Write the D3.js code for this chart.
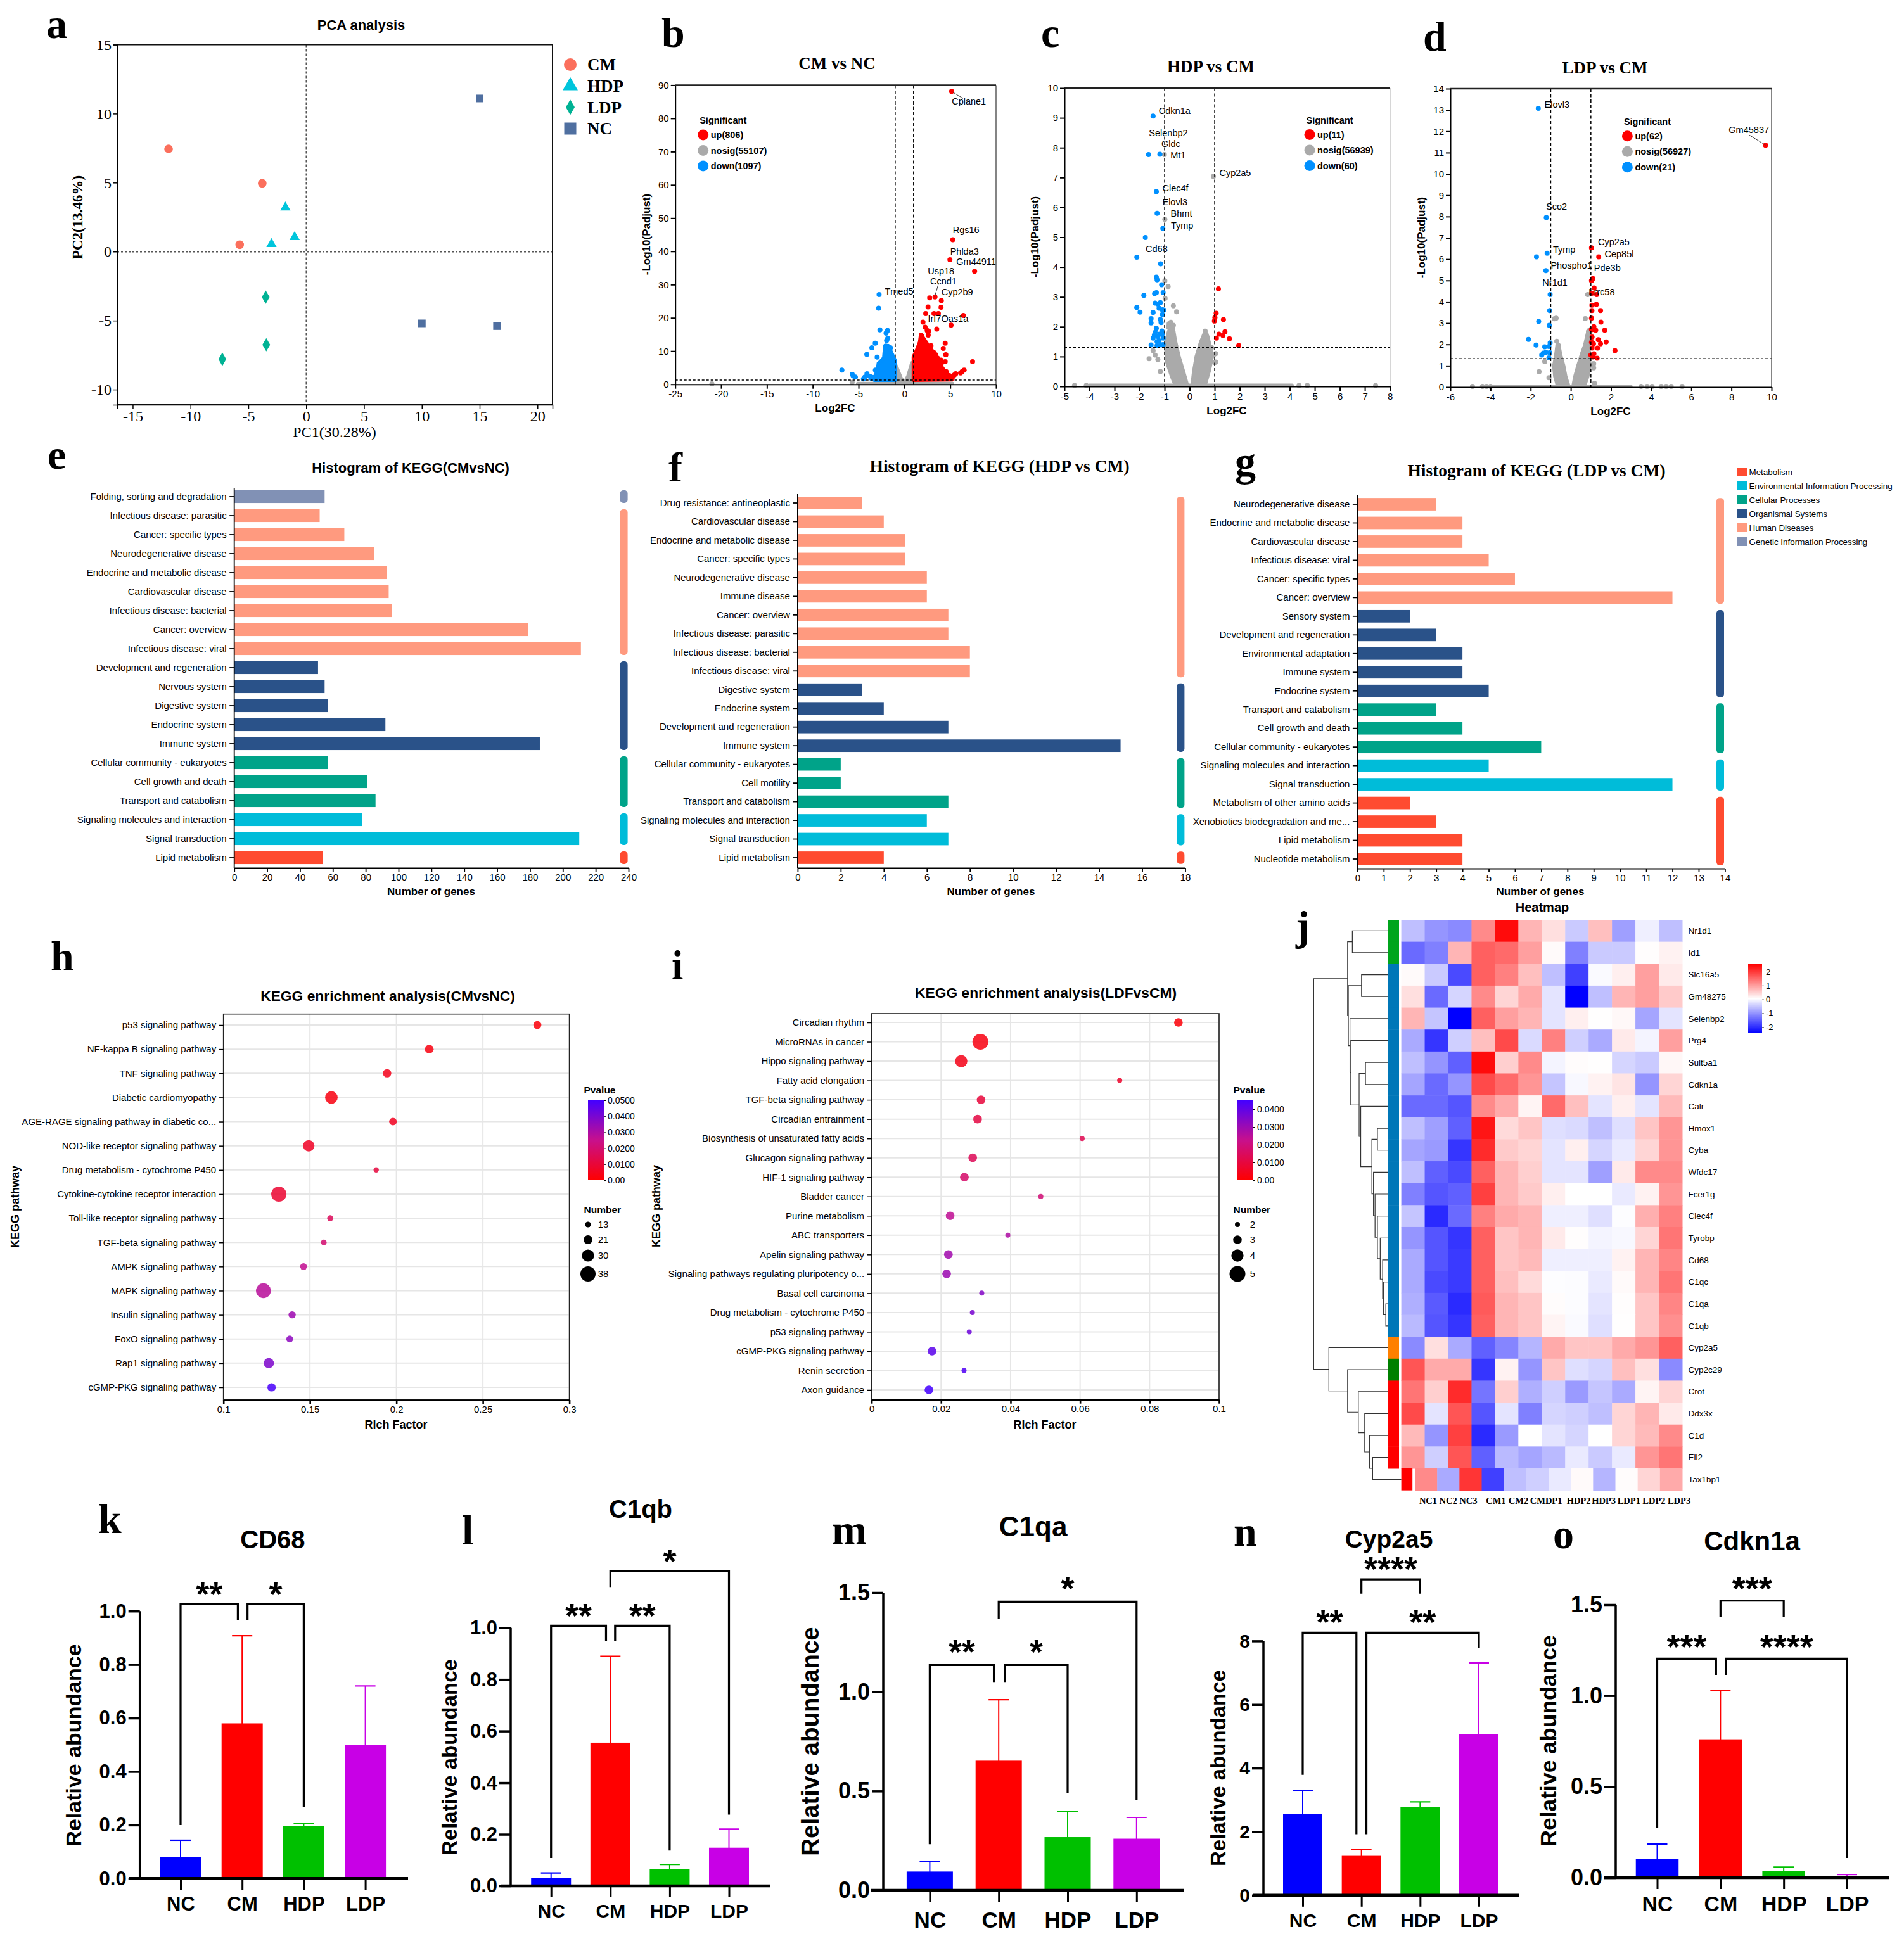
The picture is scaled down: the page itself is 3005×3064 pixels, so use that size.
<!doctype html>
<html>
<head>
<meta charset="utf-8">
<script src="https://d3js.org/d3.v7.min.js"></script>
<style>
    body { margin: 0; background: #fff; }
    text { fill: #000; }
</style>
</head>
<body>
<div id="fig"></div>
<script>
var SANS = "'Liberation Sans', Arial, sans-serif", SERIF = "'Liberation Serif', 'Times New Roman', serif";

// ---------- a: PCA ----------
var pcaGroups = ["CM", "HDP", "LDP", "NC"];
var pcaColors = ["#fb6f5c", "#00c5dc", "#00b294", "#4f6fa0"];
var pcaCM = [[-11.9, 7.45], [-3.8, 4.95], [-5.75, 0.5]];
var pcaHDP = [[-1.8, 3.2], [-1, 1.05], [-3, 0.55]];
var pcaLDP = [[-3.5, -3.3], [-3.45, -6.75], [-7.25, -7.8]];
var pcaNC = [[15, 11.1], [10, -5.2], [16.5, -5.4]];

// ---------- b: CM vs NC ----------
var bUp = [[5.15,88.1],[5.28,43.5],[4.97,37.5],[7.66,34],[3.34,26.3],[2.76,26],[4.03,25.2],[2.58,23.3],[4,23.2],[2.33,21.3],[3.23,21.3],[3.71,21.3],[6.43,20.7],[5.09,17.8],[2.03,18.7],[2.26,17.2],[2.49,16.2],[2.65,15.9],[3.53,16.6],[4.45,12.4],[4.24,10.8],[4.52,8.9],[7.44,6.8],[4.45,6.8],[3.99,7.3],[4,6],[6.52,4.3],[6.29,3.8],[6.13,3.4],[5.6,3.2],[5.25,2.2],[4.56,3.8],[3.18,9.6],[3.41,8.9],[2.72,11.1],[1.87,14.6],[2.6,14.8],[2.9,11.6],[3.6,7.9],[4.9,2.6],[5.45,2.8]];
var bDown = [[-2.76,27],[-2.81,22.9],[-2.67,16.4],[-1.84,16.2],[-2,15.4],[-1.82,13.8],[-1.94,13.2],[-3.18,12.4],[-3.55,11],[-2.03,11.5],[-1.52,11],[-4.1,9],[-2.97,8.2],[-6.82,4.3],[-5.69,3],[-5.35,2.2],[-5.58,2.5],[-4.08,3.2],[-4.31,2.2],[-4.47,1.6],[-3.78,2.4],[-3.16,4.3],[-2.76,6.2],[-2.81,5.4],[-2.58,4.8],[-3.4,2.1],[-3.6,1.8]];
var bGrey = [[-21, 0.15], [-5.7, 0.6]];
var bUpCloud = [[1,1.3],[1,8.3],[1.34,10.2],[1.68,12.7],[1.8,15],[2.5,12.1],[3.18,9.6],[3.76,6.4],[4.45,3.8],[5.25,1.4]];
var bDownCloud = [[-3.27,1.27],[-2.76,6.4],[-2.23,7.96],[-2.12,11.5],[-1.77,11.6],[-1.43,9.6],[-1,7],[-1,1.3]];
var bGreyClouds = [[[0,0.3],[0.41,2.5],[0.83,6.4],[1,5.7],[1,0.6]], [[0,0.3],[-0.39,1.9],[-0.85,5.1],[-1,6],[-1,0.6]]];
var bLabels = [["Cplane1",7.04,85.1],["Rgs16",6.73,46.4],["Phlda3",6.56,40],["Gm44911",7.83,36.9],["Usp18",4,34.1],["Ccnd1",4.26,31],["Cyp2b9",5.76,27.7],["Tmed5",-0.58,27.9],["Irf7",3.29,19.7],["Oas1a",5.5,19.7]];
var bLeaders = [[[5.15,88.1],[6.4,86]], [[3.75,30.5],[3.3,26.3]]];
var bLegend = ["up(806)", "nosig(55107)", "down(1097)"];

// ---------- c: HDP vs CM ----------
var cUp = [[1.15,3.27],[1.06,2.45],[1.01,2.31],[0.99,2.19],[1.35,2.24],[1.41,1.83],[1.33,1.71],[1.17,1.75],[1.07,1.62],[1.59,1.6],[1.96,1.37]];
var cDown = [[-1.46,9.06],[-1.64,7.77],[-1.19,7.78],[-1.33,6.53],[-1.3,5.8],[-1.07,5.29],[-1.77,4.99],[-2.11,4.33],[-1.16,4.11],[-1.33,3.66],[-1.3,3.57],[-1.12,3.41],[-1.33,3.14],[-1.4,3.11],[-1.06,3.14],[-1.83,3.05],[-2.11,2.65],[-1.98,2.49],[-1.46,2.48],[-1.22,2.62],[-1.38,2.79],[-1.27,2.76],[-1.17,2.81],[-1.09,2.57],[-1.03,2.56],[-1.09,2.41],[-1.54,2.27],[-1.54,2.13],[-1.17,2.24],[-1.14,2.14],[-1.33,1.95],[-1.38,1.81],[-1.11,1.86],[-1.41,1.72],[-1.27,1.67],[-1.09,1.76],[-1.46,1.62],[-1.06,1.62],[-1.22,1.53],[-1.54,1.39],[-1.3,1.37],[-1.14,1.39],[-1.06,1.4],[-1.2,1.75],[-1.3,1.5]];
var cGrey = [[-1.01,7.77],[0.95,7.04],[-0.99,5.6],[-0.99,3.54],[-0.86,3.35],[-0.65,2.7],[-0.52,2.5],[-0.98,2.95],[-1.62,0.93],[-1.27,0.9],[-1.46,1.2],[-1.38,1.05],[-1.17,0.5],[1.04,1.1],[1.04,0.82],[-0.82,2.1],[-0.75,2.15],[-0.85,2.0],[-0.65,2.05],[-0.93,1.6],[-0.72,1.9],[0.62,1.85],[0.7,1.65],[0.88,1.3],[0.95,1.05],[1.0,0.8],[-4.6,0.03],[-4.13,0.03],[4.37,0.03],[4.7,0.03],[7.43,0.03]];
var cGreyClouds = [[[-0.03,0],[-0.2,0.5],[-0.38,1],[-0.52,1.5],[-0.62,2],[-0.78,2.1],[-0.9,1.8],[-1,1.3],[-0.95,0.8],[-0.75,0.3],[-0.6,0]], [[0.05,0],[0.12,0.5],[0.22,1],[0.4,1.5],[0.55,1.8],[0.72,1.8],[0.85,1.4],[0.95,1],[0.82,0.5],[0.65,0]]];
var cLabels = [["Cdkn1a",-0.6,9.24],["Selenbp2",-0.85,8.5],["Gldc",-0.75,8.13],["Mt1",-0.46,7.76],["Cyp2a5",1.82,7.15],["Clec4f",-0.57,6.65],["Elovl3",-0.59,6.19],["Bhmt",-0.33,5.8],["Tymp",-0.3,5.4],["Cd68",-1.32,4.6]];
var cLegend = ["up(11)", "nosig(56939)", "down(60)"];

// ---------- d: LDP vs CM ----------
var dUp = [[9.7,11.35],[1.03,6.53],[1.39,6.11],[1.1,5.09],[1.03,4.99],[1.16,4.65],[1.29,4.34],[1.05,4.4],[1.27,3.88],[1.05,3.84],[1.05,3.59],[1.48,3.59],[1.03,3.23],[1.5,3.05],[1.15,2.83],[1.24,2.67],[1.08,2.7],[1.69,2.67],[1.37,2.22],[1.06,2.35],[1.76,2.12],[1.48,2.03],[1.13,2.03],[1.33,1.83],[1.06,1.83],[2.2,1.71],[1.15,1.56],[1,1.5],[1.31,1.35],[1.1,1.41],[1.03,2.7],[1.03,2.1]];
var dDown = [[-1.62,13.08],[-1.22,7.95],[-1.18,6.28],[-1.71,6.11],[-1.24,5.46],[-1.03,4.34],[-1.05,3.59],[-1.6,3.08],[-1.07,2.9],[-2.11,2.24],[-1.73,1.97],[-1.3,1.89],[-1.09,1.9],[-1.03,2.07],[-1.37,1.59],[-1.24,1.63],[-1.45,1.5],[-1.05,1.61],[-1.09,1.37]];
var dGrey = [[-0.73,3.23],[-0.82,3.2],[0.72,3.21],[0.84,4.34],[-1.58,0.72],[-1.3,1.2],[-1.09,0.44],[1.14,0.9],[1.14,1.1],[1.18,0.17],[-0.7,2.15],[-0.62,1.95],[0.88,2.6],[0.95,2.5],[-4.9,0.03],[-4.4,0.03],[-4.2,0.03],[-4,0.03],[3.5,0.03],[3.8,0.03],[4.05,0.03],[4.5,0.03],[4.75,0.03],[5,0.03],[5.54,0.03]];
var dGreyClouds = [[[-0.03,0],[-0.2,0.5],[-0.3,1],[-0.45,1.5],[-0.55,2],[-0.72,2.1],[-0.8,1.5],[-0.9,1],[-0.85,0.5],[-0.7,0]], [[0.05,0],[0.15,0.5],[0.3,1],[0.5,1.6],[0.65,2],[0.82,2.7],[0.97,2.8],[0.97,1.6],[1,1],[0.9,0.5],[0.72,0]]];
var dLabels = [["Elovl3",-0.69,13.25],["Sco2",-0.71,8.46],["Gm45837",8.87,12.08],["Cyp2a5",2.14,6.81],["Tymp",-0.33,6.45],["Cep85l",2.41,6.25],["Phospho1",0.03,5.72],["Pde3b",1.82,5.58],["Nr1d1",-0.79,4.9],["Lrrc58",1.54,4.45]];
var dLeaders = [[[8.9,11.82],[9.7,11.35]]];
var dLegend = ["up(62)", "nosig(56927)", "down(21)"];

// ---------- e f g: KEGG histograms ----------
var keggClasses = ["Metabolism", "Environmental Information Processing", "Cellular Processes", "Organismal Systems", "Human Diseases", "Genetic Information Processing"];
var keggColors = ["#ff4b30", "#00bcd9", "#00a389", "#2a5289", "#ff9a7f", "#8191b5"];

var eCats = ["Folding, sorting and degradation","Infectious disease: parasitic","Cancer: specific types","Neurodegenerative disease","Endocrine and metabolic disease","Cardiovascular disease","Infectious disease: bacterial","Cancer: overview","Infectious disease: viral","Development and regeneration","Nervous system","Digestive system","Endocrine system","Immune system","Cellular community - eukaryotes","Cell growth and death","Transport and catabolism","Signaling molecules and interaction","Signal transduction","Lipid metabolism"];
var eVals = [55,52,67,85,93,94,96,179,211,51,55,57,92,186,57,81,86,78,210,54];
var eClass = [5,4,4,4,4,4,4,4,4,3,3,3,3,3,2,2,2,1,1,0];

var fCats = ["Drug resistance: antineoplastic","Cardiovascular disease","Endocrine and metabolic disease","Cancer: specific types","Neurodegenerative disease","Immune disease","Cancer: overview","Infectious disease: parasitic","Infectious disease: bacterial","Infectious disease: viral","Digestive system","Endocrine system","Development and regeneration","Immune system","Cellular community - eukaryotes","Cell motility","Transport and catabolism","Signaling molecules and interaction","Signal transduction","Lipid metabolism"];
var fVals = [3,4,5,5,6,6,7,7,8,8,3,4,7,15,2,2,7,6,7,4];
var fClass = [4,4,4,4,4,4,4,4,4,4,3,3,3,3,2,2,2,1,1,0];

var gCats = ["Neurodegenerative disease","Endocrine and metabolic disease","Cardiovascular disease","Infectious disease: viral","Cancer: specific types","Cancer: overview","Sensory system","Development and regeneration","Environmental adaptation","Immune system","Endocrine system","Transport and catabolism","Cell growth and death","Cellular community - eukaryotes","Signaling molecules and interaction","Signal transduction","Metabolism of other amino acids","Xenobiotics biodegradation and me...","Lipid metabolism","Nucleotide metabolism"];
var gVals = [3,4,4,5,6,12,2,3,4,4,5,3,4,7,5,12,2,3,4,4];
var gClass = [4,4,4,4,4,4,3,3,3,3,3,2,2,2,1,1,0,0,0,0];

// ---------- h i: KEGG enrichment ----------
var hCats = ["p53 signaling pathway","NF-kappa B signaling pathway","TNF signaling pathway","Diabetic cardiomyopathy","AGE-RAGE signaling pathway in diabetic co...","NOD-like receptor signaling pathway","Drug metabolism - cytochrome P450","Cytokine-cytokine receptor interaction","Toll-like receptor signaling pathway","TGF-beta signaling pathway","AMPK signaling pathway","MAPK signaling pathway","Insulin signaling pathway","FoxO signaling pathway","Rap1 signaling pathway","cGMP-PKG signaling pathway"];
var hRich = [0.2815,0.219,0.1946,0.1624,0.198,0.1493,0.1883,0.132,0.1617,0.158,0.1463,0.1231,0.1397,0.1383,0.1262,0.1278];
var hCount = [19,21,20,31,18,28,12,38,14,13,16,37,17,16,25,20];
var hP = [0.002,0.003,0.005,0.003,0.006,0.007,0.011,0.009,0.016,0.02,0.026,0.028,0.033,0.036,0.039,0.049];
var hCountLegend = [13,21,30,38];

var iCats = ["Circadian rhythm","MicroRNAs in cancer","Hippo signaling pathway","Fatty acid elongation","TGF-beta signaling pathway","Circadian entrainment","Biosynthesis of unsaturated fatty acids","Glucagon signaling pathway","HIF-1 signaling pathway","Bladder cancer","Purine metabolism","ABC transporters","Apelin signaling pathway","Signaling pathways regulating pluripotency o...","Basal cell carcinoma","Drug metabolism - cytochrome P450","p53 signaling pathway","cGMP-PKG signaling pathway","Renin secretion","Axon guidance"];
var iRich = [0.0883,0.0313,0.0258,0.0714,0.0315,0.0305,0.0606,0.0291,0.0267,0.0487,0.0226,0.0392,0.0221,0.0216,0.0317,0.029,0.0281,0.0174,0.0266,0.0165];
var iCount = [3,5,4,2,3,3,2,3,3,2,3,2,3,3,2,2,2,3,2,3];
var iP = [0.0015,0.003,0.004,0.007,0.0095,0.011,0.013,0.014,0.017,0.019,0.024,0.027,0.029,0.03,0.034,0.036,0.038,0.041,0.043,0.045];
var iCountLegend = [2,3,4,5];

// ---------- j: heatmap ----------
var heatGenes = ["Nr1d1","Id1","Slc16a5","Gm48275","Selenbp2","Prg4","Sult5a1","Cdkn1a","Calr","Hmox1","Cyba","Wfdc17","Fcer1g","Clec4f","Tyrobp","Cd68","C1qc","C1qa","C1qb","Cyp2a5","Cyp2c29","Crot","Ddx3x","C1d","Ell2","Tax1bp1"];
var heatValues = [
    [-0.6,-1.0,-1.1,1.1,2.3,0.7,0.3,-0.5,0.6,-0.9,-0.15,-0.6],
    [-1.4,-1.2,0.7,1.5,1.4,0.9,0.05,-1.2,-0.5,-0.5,0.02,0.12],
    [0.05,-0.5,-1.7,1.5,1.2,0.6,-0.6,-1.8,-0.05,0.15,0.9,0.2],
    [0.3,-1.4,-0.4,1.1,0.4,0.8,-0.25,-2.4,-0.6,0.7,0.9,0.5],
    [0.7,-0.55,-2.4,1.5,0.9,0.7,-0.25,0.15,0.01,0.07,-0.85,-0.25],
    [-0.8,-1.9,-0.45,0.6,1.7,-0.35,1.2,-0.45,-0.8,0.2,-0.1,0.9],
    [-0.6,-1.0,-1.5,2.3,0.45,1.1,-0.1,0.03,0.01,-0.4,-0.5,0.08],
    [-0.85,-1.4,-1.0,1.7,1.4,1.0,-0.55,-0.07,0.12,0.25,-1.0,0.4],
    [-1.4,-1.4,-1.6,1.1,0.8,0.1,1.4,0.6,-0.25,0.15,-0.25,0.65],
    [-0.6,-0.9,-1.5,2.2,0.35,0.55,-0.3,-0.35,-0.6,-0.3,0.55,1.0],
    [-0.85,-0.95,-1.9,2.0,0.5,0.4,-0.25,0.15,-0.4,-0.2,0.4,1.0],
    [-0.6,-1.5,-1.7,1.5,0.7,0.45,-0.25,-0.25,-0.9,0.2,1.1,1.1],
    [-1.2,-1.6,-1.5,1.8,0.7,0.5,0.15,0.0,0.0,-0.2,0.12,1.0],
    [-0.55,-2.0,-1.4,1.2,0.8,0.7,-0.15,-0.15,-0.3,-0.02,0.75,1.2],
    [-1.0,-1.6,-1.9,1.5,0.55,0.7,0.2,0.02,-0.1,-0.07,0.4,1.3],
    [-0.8,-1.6,-1.85,1.5,0.55,0.65,-0.15,-0.15,-0.15,0.12,0.7,1.15],
    [-0.8,-1.7,-1.85,1.5,0.6,0.35,-0.02,-0.03,-0.2,0.05,0.7,1.3],
    [-0.75,-1.55,-2.0,1.55,0.7,0.55,0.03,-0.03,-0.25,0.02,0.55,1.15],
    [-0.65,-1.6,-1.9,1.5,0.7,0.55,0.1,-0.05,-0.3,0.01,0.55,1.05],
    [-1.1,0.3,-0.8,-1.5,-1.15,-0.7,0.8,0.55,0.55,0.8,1.0,1.5],
    [1.6,0.8,0.8,-1.9,0.12,-1.0,0.55,-0.3,-0.4,0.6,0.3,-1.1],
    [1.3,0.45,2.0,-1.3,0.45,-0.75,-0.45,-0.95,-0.55,-0.8,0.1,0.4],
    [1.7,-0.25,1.6,-1.6,-0.25,-1.2,-0.4,-0.45,-0.6,0.4,0.7,0.2],
    [0.65,-1.0,1.8,-2.0,-0.95,0.0,-0.25,-0.4,0.0,0.4,0.65,1.1],
    [1.0,-0.45,1.6,-1.5,-0.65,-0.85,-0.65,-0.2,-0.5,-0.2,1.0,1.3],
    [1.1,-0.8,1.9,-1.8,-0.6,-0.45,-0.2,0.05,-0.7,0.03,0.4,0.8]
];
var heatAnnot = ["#00a51c","#00a51c"].concat(d3.range(17).map(function(){ return "#0077b8"; }), ["#ff8000","#008000","#ff0000","#ff0000","#ff0000","#ff0000"]);
var heatColLabels = ["NC1","NC2","NC3","CM1","CM2","CMDP1","HDP2","HDP3","LDP1","LDP2","LDP3"];
var heatColSlots = [0,0.8,1.6,2.7,3.6,4.7,6,7,8,9,10];
// merge heights of the row tree, leaves are gene names
var heatTree = [187,
    [102, [90,"Nr1d1","Id1"],
        [100, [67,"Slc16a5","Gm48275"],
            [96,"Selenbp2",
                [94,"Prg4",
                    [73, [57,"Sult5a1","Cdkn1a"],
                        [69,"Calr",
                            [41, [27,"Hmox1","Cyba"],
                                [37,"Wfdc17",[33,"Fcer1g",[27,"Clec4f",[20,"Tyrobp",[14,"Cd68",[12,"C1qc",[6,"C1qa","C1qb"]]]]]]]]]]]]]],
    [149,"Cyp2a5",[102,"Cyp2c29",[75,"Crot",[59,"Ddx3x",[47,"C1d",[39,"Ell2","Tax1bp1"]]]]]]];

// ---------- k-o: bars ----------
var barCats = ["NC", "CM", "HDP", "LDP"];
var barColors = ["#0000ff", "#ff0000", "#00c000", "#c800e6"];
var kMean = [0.08,0.58,0.195,0.5], kErr = [0.143,0.908,0.205,0.72];
var lMean = [0.03,0.555,0.065,0.148], lErr = [0.05,0.89,0.083,0.22];
var mMean = [0.0945,0.653,0.268,0.26], mErr = [0.145,0.96,0.398,0.367];
var nMean = [2.55,1.24,2.77,5.06], nErr = [3.3,1.45,2.94,7.31];
var oMean = [0.103,0.76,0.036,0.01], oErr = [0.184,1.027,0.058,0.017];
// from, to (category index), top, left end, right end, stars
var kSig = [[0,0.93,1.0255,0.2,0.966,"**"],[1.087,2,1.0255,0.966,0.266,"*"]];
var lSig = [[0,0.927,1.008,0.108,0.948,"**"],[1.08,2,1.008,0.948,0.137,"**"],[1,3,1.219,1.158,0.276,"*"]];
var mSig = [[0,0.93,1.135,0.232,1.049,"**"],[1.09,2,1.135,1.049,0.49,"*"],[1,3,1.454,1.367,0.456,"*"]];
var nSig = [[0,0.915,8.26,3.79,1.92,"**"],[1.085,3,8.26,1.92,7.78,"**"],[1,2,9.94,9.49,9.49,"****"]];
var oSig = [[0,0.93,1.203,0.273,1.114,"***"],[1.09,3,1.203,1.114,0.108,"****"],[1,2,1.522,1.434,1.434,"***"]];

var svg = d3.select("#fig").append("svg")
    .attr("width", 3005)
    .attr("height", 3064)
    .style("display", "block");

function addText(x, y, str, size, opts) {
    opts = opts || {};
    var t = svg.append("text")
        .attr("x", x).attr("y", y)
        .attr("dy", opts.baseline ? null : "0.35em")
        .attr("text-anchor", opts.anchor || "middle")
        .attr("font-family", opts.family || SANS)
        .attr("font-weight", opts.weight || "normal")
        .attr("font-size", size + "px")
        .text(str);
    if (opts.rotate) t.attr("transform", "rotate(-90," + x + "," + y + ")");
    return t;
}

function styleAxis(sel, size, family, weight, width) {
    sel.selectAll("text").attr("font-size", size + "px").attr("font-family", family || SANS).attr("font-weight", weight || "normal").attr("fill", "#000");
    sel.selectAll("line").attr("stroke", "#000").attr("stroke-width", width || 1.5);
    sel.selectAll("path").attr("stroke", "#000").attr("stroke-width", width || 1.5);
}

// plain hyphen like the original, not the d3 minus sign
function plain(d) { return String(d); }

// panel letters
var panelLetters = [["a",73,60],["b",1044,74],["c",1643,74],["d",2246,80],["e",75,740],["f",1055,760],["g",1949,751],["h",80,1532],["i",1060,1546],["j",2045,1484],["k",155,2420],["l",729,2438],["m",1313,2437],["n",1947,2440],["o",2451,2444]];
panelLetters.forEach(function(d) {
    addText(d[1], d[2], d[0], 66, {family: SERIF, weight: "bold", anchor: "start", baseline: true});
});

// ---------- a ----------
(function() {
    var x = d3.scaleLinear().domain([-16.34, 21.3]).range([185, 872]);
    var y = d3.scaleLinear().domain([-11.1, 15]).range([639, 70.5]);
    svg.append("line").attr("x1", x(0)).attr("x2", x(0)).attr("y1", y(15)).attr("y2", y(-11.1))
        .attr("stroke", "#555").attr("stroke-width", 1.5).attr("stroke-dasharray", "4,3");
    svg.append("line").attr("x1", x(-16.34)).attr("x2", x(21.3)).attr("y1", y(0)).attr("y2", y(0))
        .attr("stroke", "#555").attr("stroke-width", 2.5).attr("stroke-dasharray", "3,3");
    svg.append("rect").attr("x", 185).attr("y", 70.5).attr("width", 687).attr("height", 568.5)
        .attr("fill", "none").attr("stroke", "#111").attr("stroke-width", 2);
    svg.append("g").attr("transform", "translate(0,639)")
        .call(d3.axisBottom(x).tickValues(d3.range(-15, 21, 5)).tickSizeOuter(0).tickFormat(plain).tickSize(6))
        .call(styleAxis, 24, SERIF);
    svg.append("g").attr("transform", "translate(185,0)")
        .call(d3.axisLeft(y).tickValues(d3.range(-10, 16, 5)).tickSizeOuter(0).tickFormat(plain).tickSize(6))
        .call(styleAxis, 24, SERIF);
    var kinds = [d3.symbolCircle, d3.symbolTriangle, d3.symbolDiamond, d3.symbolSquare];
    var plotSize = [145, 115, 130, 144], legSize = [314, 250, 170, 361];
    [pcaCM, pcaHDP, pcaLDP, pcaNC].forEach(function(pts, i) {
        svg.selectAll(null).data(pts).enter().append("path")
            .attr("d", d3.symbol().type(kinds[i]).size(plotSize[i]))
            .attr("transform", function(d) { return "translate(" + x(d[0]) + "," + y(d[1]) + ")"; })
            .attr("fill", pcaColors[i]);
    });
    var legY = d3.scaleLinear().domain([0, 3]).range([102, 203]);
    pcaGroups.forEach(function(name, i) {
        svg.append("path").attr("d", d3.symbol().type(kinds[i]).size(legSize[i]))
            .attr("transform", "translate(900," + legY(i) + ")").attr("fill", pcaColors[i]);
        addText(927, legY(i), name, 27, {family: SERIF, weight: "bold", anchor: "start"});
    });
    addText(570, 39, "PCA analysis", 22, {weight: "bold"});
    addText(528, 682, "PC1(30.28%)", 24, {family: SERIF});
    addText(122, 343, "PC2(13.46%)", 23, {family: SERIF, weight: "bold", rotate: true});
})();

// ---------- volcano ----------
function volcano(c) {
    var x = d3.scaleLinear().domain(c.xd).range([c.l, c.r]);
    var y = d3.scaleLinear().domain(c.yd).range([c.b, c.t]);
    var path = d3.line().x(function(d) { return x(d[0]); }).y(function(d) { return y(d[1]); }).curve(d3.curveLinearClosed);
    var blob = function(cloud, col) {
        svg.append("path").attr("d", path(cloud)).attr("fill", col).attr("stroke", col)
            .attr("stroke-width", c.blobW).attr("stroke-linejoin", "round");
    };
    // low significance band along the baseline
    svg.append("line").attr("x1", x(c.band[0])).attr("x2", x(c.band[1])).attr("y1", y(c.bandY)).attr("y2", y(c.bandY))
        .attr("stroke", "#aaa").attr("stroke-width", 5).attr("stroke-linecap", "round");
    c.greyClouds.forEach(function(d) { blob(d, "#aaaaaa"); });
    (c.upCloud ? [c.upCloud] : []).forEach(function(d) { blob(d, "#ff0000"); });
    (c.downCloud ? [c.downCloud] : []).forEach(function(d) { blob(d, "#0090ff"); });
    [[c.grey, "#aaaaaa"], [c.up, "#ff0000"], [c.down, "#0090ff"]].forEach(function(s) {
        svg.selectAll(null).data(s[0]).enter().append("circle")
            .attr("cx", function(d) { return x(d[0]); })
            .attr("cy", function(d) { return y(d[1]); })
            .attr("r", 4).attr("fill", s[1]);
    });
    // thresholds
    [-1, 1].forEach(function(v) {
        svg.append("line").attr("x1", x(v)).attr("x2", x(v)).attr("y1", c.t).attr("y2", c.b)
            .attr("stroke", "#000").attr("stroke-width", 1.5).attr("stroke-dasharray", "5,3.5");
    });
    svg.append("line").attr("x1", c.l).attr("x2", c.r).attr("y1", y(c.pLine)).attr("y2", y(c.pLine))
        .attr("stroke", "#000").attr("stroke-width", 1.5).attr("stroke-dasharray", "4,3");
    // frame
    svg.append("line").attr("x1", c.r).attr("x2", c.r).attr("y1", c.t).attr("y2", c.b).attr("stroke", "#333").attr("stroke-width", 1.2);
    svg.append("line").attr("x1", c.l).attr("x2", c.r).attr("y1", c.t).attr("y2", c.t).attr("stroke", "#222").attr("stroke-width", 2.5);
    svg.append("g").attr("transform", "translate(0," + c.b + ")")
        .call(d3.axisBottom(x).tickValues(c.xt).tickSize(7).tickSizeOuter(0).tickFormat(plain))
        .call(styleAxis, 15, SANS, "normal", 2);
    svg.append("g").attr("transform", "translate(" + c.l + ",0)")
        .call(d3.axisLeft(y).tickValues(c.yt).tickSize(7).tickSizeOuter(0).tickFormat(plain))
        .call(styleAxis, 15, SANS, "normal", 2);
    c.labels.forEach(function(d) { addText(x(d[1]), y(d[2]), d[0], 14.5); });
    (c.leaders || []).forEach(function(d) {
        svg.append("line").attr("x1", x(d[0][0])).attr("y1", y(d[0][1])).attr("x2", x(d[1][0])).attr("y2", y(d[1][1]))
            .attr("stroke", "#333").attr("stroke-width", 1);
    });
    addText(c.titleX, c.titleY, c.title, 27, {family: SERIF, weight: "bold"});
    addText(c.xlabX, c.xlabY, "Log2FC", 17, {weight: "bold"});
    addText(c.ylabX, c.ylabY, "-Log10(Padjust)", 17, {weight: "bold", rotate: true});
    addText(c.legX - 5.5, c.legY - 23, "Significant", 14.5, {weight: "bold", anchor: "start"});
    var legColors = ["#ff0000", "#aaaaaa", "#0090ff"];
    c.legend.forEach(function(t, i) {
        svg.append("circle").attr("cx", c.legX).attr("cy", c.legY + i * 24.5).attr("r", 8.5).attr("fill", legColors[i]);
        addText(c.legX + 12, c.legY + i * 24.5, t, 14.5, {weight: "bold", anchor: "start"});
    });
}

volcano({l: 1065.7, r: 1572, t: 134.4, b: 606.7, xd: [-25, 10], yd: [0, 90], xt: d3.range(-25, 11, 5), yt: d3.range(0, 91, 10), blobW: 6,
    up: bUp, down: bDown, grey: bGrey, upCloud: bUpCloud, downCloud: bDownCloud, greyClouds: bGreyClouds, band: [-5.1, 5.25], bandY: 0.3, pLine: 1.3,
    labels: bLabels, leaders: bLeaders, legend: bLegend, title: "CM vs NC", titleX: 1321, titleY: 100, xlabX: 1318, xlabY: 644, ylabX: 1020, ylabY: 370, legX: 1109.7, legY: 213});
volcano({l: 1680, r: 2193.6, t: 139, b: 610, xd: [-5, 8], yd: [0, 10], xt: d3.range(-5, 9), yt: d3.range(0, 11), blobW: 2,
    up: cUp, down: cDown, grey: cGrey, greyClouds: cGreyClouds, band: [-4, 4.1], bandY: 0.04, pLine: 1.3,
    labels: cLabels, legend: cLegend, title: "HDP vs CM", titleX: 1911, titleY: 104.5, xlabX: 1936, xlabY: 648, ylabX: 1633, ylabY: 374, legX: 2067, legY: 212.5});
volcano({l: 2289, r: 2796, t: 140, b: 611, xd: [-6, 10], yd: [0, 14], xt: d3.range(-6, 11, 2), yt: d3.range(0, 15), blobW: 2,
    up: dUp, down: dDown, grey: dGrey, greyClouds: dGreyClouds, band: [-3.8, 3], bandY: 0.03, pLine: 1.33,
    labels: dLabels, leaders: dLeaders, legend: dLegend, title: "LDP vs CM", titleX: 2533, titleY: 107, xlabX: 2542, xlabY: 649, ylabX: 2243, ylabY: 375, legX: 2568.4, legY: 214.7});

// ---------- kegg histograms ----------
function keggBars(c) {
    var x = d3.scaleLinear().domain([0, c.max]).range([c.x0, c.x1]);
    var step = (c.last - c.first) / 19;
    var y = d3.scaleBand().domain(c.cats).range([c.first - step / 2, c.last + step / 2]).paddingInner(0.33).paddingOuter(0.165);
    svg.selectAll(null).data(c.vals).enter().append("rect")
        .attr("x", c.x0)
        .attr("y", function(d, i) { return y(c.cats[i]); })
        .attr("width", function(d) { return x(d) - c.x0; })
        .attr("height", y.bandwidth())
        .attr("fill", function(d, i) { return keggColors[c.cls[i]]; });
    // class strips at the right
    d3.groups(c.cats.map(function(d, i) { return {cat: d, k: c.cls[i]}; }), function(d) { return d.k; }).forEach(function(g) {
        var top = y(g[1][0].cat), bot = y(g[1][g[1].length - 1].cat) + y.bandwidth();
        svg.append("rect").attr("x", c.strip - 6).attr("y", top).attr("width", 12).attr("height", bot - top)
            .attr("rx", 5).attr("fill", keggColors[g[0]]);
    });
    svg.append("g").attr("transform", "translate(0," + c.axisY + ")")
        .call(d3.axisBottom(x).tickValues(d3.range(0, c.max + 1, c.tick)).tickSize(6).tickSizeOuter(0))
        .call(styleAxis, 15, SANS, "normal", 1.8);
    var ax = svg.append("g").attr("transform", "translate(" + c.x0 + ",0)")
        .call(d3.axisLeft(y).tickSize(7.5).tickPadding(4.5).tickSizeOuter(0))
        .call(styleAxis, 15, SANS, "normal", 1.8);
    ax.select(".domain").attr("d", "M0," + c.top + "V" + c.axisY);
    addText(c.xlab, 1407, "Number of genes", 17, {weight: "bold"});
}

keggBars({cats: eCats, vals: eVals, cls: eClass, max: 240, tick: 20, x0: 369.7, x1: 992, first: 784, last: 1354, top: 770, axisY: 1370, strip: 984.6, xlab: 680.5});
keggBars({cats: fCats, vals: fVals, cls: fClass, max: 18, tick: 2, x0: 1258.9, x1: 1870.5, first: 794, last: 1354, top: 780, axisY: 1370, strip: 1863.4, xlab: 1564});
keggBars({cats: gCats, vals: gVals, cls: gClass, max: 14, tick: 1, x0: 2142.4, x1: 2722.4, first: 796, last: 1356, top: 782, axisY: 1371, strip: 2715, xlab: 2431});
addText(648, 738, "Histogram of KEGG(CMvsNC)", 22, {weight: "bold"});
addText(1577.6, 735, "Histogram of KEGG (HDP vs CM)", 27.5, {family: SERIF, weight: "bold"});
addText(2425, 742.5, "Histogram of KEGG (LDP vs CM)", 27.5, {family: SERIF, weight: "bold"});
keggClasses.forEach(function(name, i) {
    var ly = d3.scaleLinear().domain([0, 5]).range([745, 855])(i);
    svg.append("rect").attr("x", 2742).attr("y", ly - 7).attr("width", 15).attr("height", 14).attr("fill", keggColors[i]);
    addText(2760.5, ly, name, 13.4, {anchor: "start"});
});

// ---------- kegg enrichment ----------
function bubbles(c) {
    var x = d3.scaleLinear().domain(c.xd).range([c.l, c.r]);
    var y = d3.scalePoint().domain(c.cats).range([c.first, c.last]);
    var r = d3.scaleLinear().domain(c.rd).range(c.rr);
    var col = d3.scaleLinear().domain([0, 0.5 * c.pmax, c.pmax]).range(["#ff0000", "#c8108c", "#4400ff"]);
    svg.selectAll(null).data(c.xt).enter().append("line")
        .attr("x1", x).attr("x2", x).attr("y1", c.t).attr("y2", c.b).attr("stroke", "#e6e6e6").attr("stroke-width", 2);
    svg.selectAll(null).data(c.cats).enter().append("line")
        .attr("x1", c.l).attr("x2", c.r).attr("y1", y).attr("y2", y).attr("stroke", "#e6e6e6").attr("stroke-width", 2);
    svg.selectAll(null).data(c.cats).enter().append("circle")
        .attr("cx", function(d, i) { return x(c.rich[i]); })
        .attr("cy", y)
        .attr("r", function(d, i) { return r(c.count[i]); })
        .attr("fill", function(d, i) { return col(c.p[i]); })
        .attr("fill-opacity", 0.86);
    svg.append("rect").attr("x", c.l).attr("y", c.t).attr("width", c.r - c.l).attr("height", c.b - c.t)
        .attr("fill", "none").attr("stroke", "#222").attr("stroke-width", 1.6);
    svg.append("g").attr("transform", "translate(0," + c.b + ")")
        .call(d3.axisBottom(x).tickValues(c.xt).tickSize(6).tickSizeOuter(0).tickFormat(plain))
        .call(styleAxis, 15, SANS, "normal", 2.6);
    var ax = svg.append("g").attr("transform", "translate(" + c.l + ",0)")
        .call(d3.axisLeft(y).tickSize(7).tickPadding(4.5).tickSizeOuter(0))
        .call(styleAxis, 15);
    ax.select(".domain").remove();
    addText(c.titleX, c.titleY, c.title, 22.8, {weight: "bold"});
    addText(c.xlabX, 2248.5, "Rich Factor", 18, {weight: "bold"});
    addText(c.ylabX, c.ylabY, "KEGG pathway", 18, {weight: "bold", rotate: true});
    // colour bar
    var id = "grad" + c.legX;
    var grad = svg.append("defs").append("linearGradient").attr("id", id).attr("x1", 0).attr("x2", 0).attr("y1", 1).attr("y2", 0);
    [0, 0.5, 1].forEach(function(f) {
        grad.append("stop").attr("offset", (f * 100) + "%").attr("stop-color", col(f * c.pmax));
    });
    svg.append("rect").attr("x", c.legX).attr("y", 1737).attr("width", 25).attr("height", 126).attr("fill", "url(#" + id + ")");
    var py = d3.scaleLinear().domain([0, c.pmax]).range([1863, 1737]);
    var lg = svg.append("g").attr("transform", "translate(" + (c.legX + 25) + ",0)")
        .call(d3.axisRight(py).tickValues(c.pt).tickSize(3).tickPadding(3).tickSizeOuter(0).tickFormat(function(d) { return d === 0 ? "0.00" : d.toFixed(4); }))
        .call(styleAxis, 14, SANS, "normal", 1);
    lg.select(".domain").remove();
    addText(c.legX - 6.5, 1721, "Pvalue", 15.5, {weight: "bold", anchor: "start"});
    addText(c.legX - 6.5, 1909.5, "Number", 15.5, {weight: "bold", anchor: "start"});
    var ny = [1933, 1957, 1982, 2011];
    c.legend.forEach(function(n, i) {
        svg.append("circle").attr("cx", c.legX).attr("cy", ny[i]).attr("r", r(n)).attr("fill", "#000");
        addText(c.legX + 24, ny[i], n, 15);
    });
}

bubbles({cats: hCats, rich: hRich, count: hCount, p: hP, legend: hCountLegend, xd: [0.1, 0.3], xt: [0.1, 0.15, 0.2, 0.25, 0.3], l: 352.7, r: 898.6, t: 1600.7, b: 2210, first: 1618, last: 2190,
    rd: [13, 38], rr: [4.5, 12], pmax: 0.05, pt: [0, 0.01, 0.02, 0.03, 0.04, 0.05], title: "KEGG enrichment analysis(CMvsNC)", titleX: 612, titleY: 1571.6, xlabX: 625, ylabX: 24, ylabY: 1905, legX: 928});
bubbles({cats: iCats, rich: iRich, count: iCount, p: iP, legend: iCountLegend, xd: [0, 0.1], xt: [0, 0.02, 0.04, 0.06, 0.08, 0.1], l: 1375.6, r: 1924, t: 1600, b: 2209.7, first: 1614, last: 2194,
    rd: [2, 5], rr: [4, 12.5], pmax: 0.045, pt: [0, 0.01, 0.02, 0.03, 0.04], title: "KEGG enrichment analysis(LDFvsCM)", titleX: 1650.5, titleY: 1567, xlabX: 1649, ylabX: 1036, ylabY: 1904, legX: 1953});

// ---------- heatmap ----------
(function() {
    var rowH = 34.64, top = 1452, colL = 2211.6, colR = 2655;
    var row = d3.scaleBand().domain(heatGenes).range([top, top + rowH * 26]);
    var col = d3.scaleBand().domain(d3.range(12)).range([colL, colR]);
    var taxCol = d3.scaleBand().domain(d3.range(12)).range([2233, colR]);
    var color = d3.scaleLinear().domain([-2.4, 0, 2.4]).range(["#0000ff", "#ffffff", "#ff0000"]);
    heatGenes.forEach(function(g, r) {
        var isTax = g === "Tax1bp1", cx = isTax ? taxCol : col;
        svg.selectAll(null).data(heatValues[r]).enter().append("rect")
            .attr("x", function(d, i) { return cx(i); })
            .attr("y", row(g))
            .attr("width", cx.bandwidth() + 0.5)
            .attr("height", row.bandwidth() + 0.5)
            .attr("fill", function(d) { return color(d); });
        if (!isTax) svg.append("rect").attr("x", 2191).attr("y", row(g)).attr("width", 17).attr("height", row.bandwidth() + 0.5).attr("fill", heatAnnot[r]);
        addText(2664.5, row(g) + row.bandwidth() / 2, g, 13.5, {anchor: "start"});
    });
    // stray annotation cell in the last row
    svg.append("rect").attr("x", colL).attr("y", row("Tax1bp1")).attr("width", 17.6).attr("height", row.bandwidth()).attr("fill", "#ff0000");

    var hx = d3.scaleLinear().domain([0, 187]).range([2190.9, 2073.4]);
    function walk(node) {
        if (typeof node === "string") {
            return {x: node === "Tax1bp1" ? colL : hx(0), y: row(node) + row.bandwidth() / 2};
        }
        var a = walk(node[1]), b = walk(node[2]), nx = hx(node[0]);
        svg.append("path").attr("d", "M" + a.x + "," + a.y + "H" + nx + "V" + b.y + "H" + b.x)
            .attr("fill", "none").attr("stroke", "#333").attr("stroke-width", 1.2);
        return {x: nx, y: (a.y + b.y) / 2};
    }
    walk(heatTree);

    var slot = d3.scaleLinear().domain([0, 10]).range([2254, 2650]);
    heatColLabels.forEach(function(t, i) {
        addText(slot(heatColSlots[i]), 2369, t, 14.5, {family: SERIF, weight: "bold"});
    });
    addText(2434, 1432, "Heatmap", 20, {weight: "bold"});

    var gid = svg.append("defs").append("linearGradient").attr("id", "heatgrad").attr("x1", 0).attr("x2", 0).attr("y1", 1).attr("y2", 0);
    [-2.4, 0, 2.4].forEach(function(v, i) {
        gid.append("stop").attr("offset", (i * 50) + "%").attr("stop-color", color(v));
    });
    svg.append("rect").attr("x", 2759).attr("y", 1522).attr("width", 22).attr("height", 109).attr("fill", "url(#heatgrad)");
    var cy = d3.scaleLinear().domain([-2, 2]).range([1621.5, 1534]);
    var lg = svg.append("g").attr("transform", "translate(2781,0)")
        .call(d3.axisRight(cy).tickValues([-2, -1, 0, 1, 2]).tickSize(3).tickPadding(3).tickSizeOuter(0).tickFormat(plain))
        .call(styleAxis, 13, SANS, "normal", 1);
    lg.select(".domain").remove();
})();

// ---------- bar panels ----------
function sigBars(c) {
    var x = d3.scalePoint().domain(barCats).range([c.c0, c.c3]);
    var xi = d3.scaleLinear().domain([0, 3]).range([c.c0, c.c3]);
    var y = d3.scaleLinear().domain([0, c.ymax]).range([c.y0, c.y1]);
    svg.selectAll(null).data(c.err).enter().append("line")
        .attr("x1", function(d, i) { return x(barCats[i]); })
        .attr("x2", function(d, i) { return x(barCats[i]); })
        .attr("y1", y(0)).attr("y2", y)
        .attr("stroke", function(d, i) { return barColors[i]; }).attr("stroke-width", 2);
    svg.selectAll(null).data(c.err).enter().append("line")
        .attr("x1", function(d, i) { return x(barCats[i]) - 16; })
        .attr("x2", function(d, i) { return x(barCats[i]) + 16; })
        .attr("y1", y).attr("y2", y)
        .attr("stroke", function(d, i) { return barColors[i]; }).attr("stroke-width", 2.2);
    svg.selectAll(null).data(c.mean).enter().append("rect")
        .attr("x", function(d, i) { return x(barCats[i]) - c.w / 2; })
        .attr("y", y)
        .attr("width", c.w)
        .attr("height", function(d) { return y(0) - y(d); })
        .attr("fill", function(d, i) { return barColors[i]; });
    var xa = svg.append("g").attr("transform", "translate(0," + c.y0 + ")")
        .call(d3.axisBottom(x).tickSize(18).tickPadding(c.xPad).tickSizeOuter(0))
        .call(styleAxis, c.xSize, SANS, "bold", 3);
    xa.select(".domain").remove();
    svg.append("line").attr("x1", c.base0).attr("x2", c.base1).attr("y1", c.y0).attr("y2", c.y0).attr("stroke", "#000").attr("stroke-width", 4.5);
    var ya = svg.append("g").attr("transform", "translate(" + c.ax + ",0)")
        .call(d3.axisLeft(y).tickValues(c.yt).tickSize(18).tickPadding(3).tickSizeOuter(0).tickFormat(d3.format(c.fmt)))
        .call(styleAxis, c.ySize, SANS, "bold", 3.5);
    ya.select(".domain").attr("d", "M0," + c.y1 + "V" + c.y0);
    c.sig.forEach(function(s) {
        var x1 = xi(s[0]), x2 = xi(s[1]);
        svg.append("path")
            .attr("d", "M" + x1 + "," + y(s[3]) + "V" + y(s[2]) + "H" + x2 + "V" + y(s[4]))
            .attr("fill", "none").attr("stroke", "#000").attr("stroke-width", 3.2);
        addText((x1 + x2) / 2, y(s[2]) - c.starUp + 0.57 * 54, s[5], 54, {weight: "bold", baseline: true});
    });
    addText(c.titleX, c.titleY, c.title, c.titleSize, {weight: "bold"});
    addText(c.labX, c.labY, "Relative abundance", c.labSize, {weight: "bold", rotate: true});
}

sigBars({title: "CD68", mean: kMean, err: kErr, sig: kSig, ymax: 1, yt: [0, 0.2, 0.4, 0.6, 0.8, 1], fmt: ".1f", ax: 220.7, y0: 2965.3, y1: 2543.2, base0: 203, base1: 644, c0: 285, c3: 576.6, w: 65, xSize: 31, ySize: 31, xPad: 11, titleX: 430.4, titleY: 2429.6, titleSize: 40, labX: 116, labY: 2755, labSize: 34, starUp: 28});
sigBars({title: "C1qb", mean: lMean, err: lErr, sig: lSig, ymax: 1, yt: [0, 0.2, 0.4, 0.6, 0.8, 1], fmt: ".1f", ax: 806, y0: 2977, y1: 2569.7, base0: 791, base1: 1215.6, c0: 869.7, c3: 1150.5, w: 63, xSize: 30, ySize: 31, xPad: 11, titleX: 1011, titleY: 2381.6, titleSize: 40, labX: 709, labY: 2774, labSize: 33, starUp: 28});
sigBars({title: "C1qa", mean: mMean, err: mErr, sig: mSig, ymax: 1.5, yt: [0, 0.5, 1, 1.5], fmt: ".1f", ax: 1394, y0: 2984, y1: 2514, base0: 1375, base1: 1868, c0: 1467.4, c3: 1793.8, w: 73, xSize: 35, ySize: 36, xPad: 16, titleX: 1630.6, titleY: 2409.4, titleSize: 44, labX: 1279, labY: 2749, labSize: 38.5, starUp: 33});
sigBars({title: "Cyp2a5", mean: nMean, err: nErr, sig: nSig, ymax: 8, yt: [0, 2, 4, 6, 8], fmt: "d", ax: 1994, y0: 2991.8, y1: 2590.4, base0: 1977, base1: 2397, c0: 2056, c3: 2334, w: 62, xSize: 30, ySize: 30, xPad: 11, titleX: 2192, titleY: 2429.6, titleSize: 39, labX: 1922, labY: 2791, labSize: 33, starUp: 29});
sigBars({title: "Cdkn1a", mean: oMean, err: oErr, sig: oSig, ymax: 1.5, yt: [0, 0.5, 1, 1.5], fmt: ".1f", ax: 2550, y0: 2964, y1: 2533, base0: 2532, base1: 2981, c0: 2615.5, c3: 2915, w: 67.5, xSize: 34, ySize: 36, xPad: 11, titleX: 2765, titleY: 2432, titleSize: 42, labX: 2444, labY: 2748, labSize: 35.5, starUp: 31});
</script>
</body>
</html>
